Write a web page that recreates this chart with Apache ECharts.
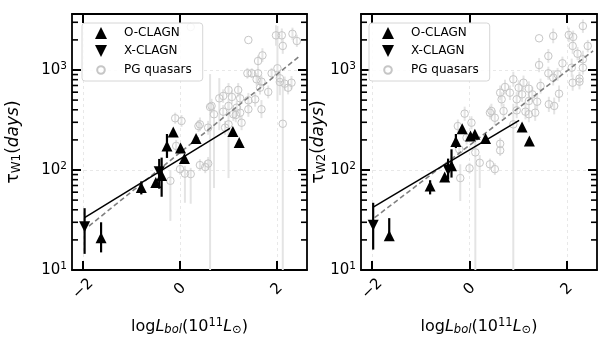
<!DOCTYPE html>
<html>
<head>
<meta charset="utf-8">
<script src="https://cdn.jsdelivr.net/npm/echarts@6/dist/echarts.min.js"></script>
<style>
  html, body { margin: 0; padding: 0; background: #fff; }
  #chart { width: 611px; height: 346px; }
</style>
</head>
<body>
<div id="chart"></div>
<script>
// ---- axis ranges and tick values ----
const xRange = [-2.23, 2.62];
const yRange = [10, 3630];
const xTickValues = [-2, 0, 2];
const yTickValues = [10, 100, 1000];
const yMinorValues = [20, 30, 40, 50, 60, 70, 80, 90, 200, 300, 400, 500, 600, 700, 800, 900, 2000, 3000];

// ---- PG quasars: [logLbol, lag (days), lower, upper] ----
const pgW1 = [
  [0.22, 2690, null, null], [1.41, 1995, null, null], [1.98, 2220, 1750, 2800], [2.10, 2220, 1900, 2600],
  [2.32, 2300, 2000, 2650], [2.41, 1950, 1700, 2250], [2.12, 1740, 1450, 2100], [1.70, 1400, 1200, 1650],
  [1.61, 1230, 1080, 1400], [1.39, 927, 820, 1050], [1.48, 927, 830, 1040], [1.61, 927, 800, 1080],
  [1.89, 927, 820, 1050], [2.01, 1040, 490, 2750], [1.58, 807, 700, 930], [1.68, 764, 660, 880],
  [2.06, 759, 560, 1000], [2.16, 730, 620, 860], [2.23, 665, 570, 780], [2.30, 746, 640, 870],
  [1.82, 603, 520, 700], [1.00, 631, 540, 740], [1.20, 631, 540, 740], [0.89, 550, 470, 640],
  [1.07, 537, 460, 625], [1.24, 521, 450, 600], [1.41, 498, 420, 590], [1.55, 509, 430, 600],
  [0.81, 521, 250, 830], [0.65, 437, 370, 515], [1.00, 437, 370, 515], [1.17, 420, 360, 490],
  [1.41, 405, 340, 480], [1.68, 405, 330, 500], [0.89, 383, 330, 445], [0.70, 361, 66, 420],
  [1.10, 361, 310, 420], [1.24, 374, 320, 440], [1.65, 665, 570, 780], [0.62, 427, 10, 910],
  [1.15, 355, 300, 420], [1.27, 297, 250, 350], [1.00, 286, 83, 470], [-0.10, 329, 290, 375],
  [0.03, 309, 270, 355], [0.41, 286, 245, 335], [0.58, 265, 225, 310], [0.93, 265, 225, 310],
  [2.12, 290, 10, 776], [0.41, 112, 98, 128], [0.58, 116, 100, 135], [0.52, 107, 93, 123],
  [0.00, 102, 90, 116], [0.10, 92, 47, 110], [0.22, 91, 46, 105], [-0.20, 78, 31, 100],
  [-0.08, 174, 150, 200], [0.38, 275, 240, 315], [2.06, 826, 720, 950]
];
const pgW2 = [
  [2.33, 2750, 2350, 3200], [2.04, 2240, 1900, 2650], [2.13, 2140, 1850, 2480], [1.72, 2190, 1850, 2600],
  [1.43, 2075, null, null], [2.12, 1740, 1450, 2100], [2.43, 1740, 1500, 2000], [2.22, 1455, 1250, 1700],
  [1.62, 1380, 1180, 1620], [2.33, 1280, 1050, 1560], [1.91, 1167, 1000, 1360], [1.43, 1122, 950, 1320],
  [2.10, 1054, 850, 1300], [1.62, 927, 800, 1080], [1.81, 906, 780, 1050], [2.12, 746, 620, 900],
  [2.26, 764, 640, 910], [1.72, 837, 700, 1000], [0.90, 807, 680, 960], [1.11, 746, 630, 880],
  [0.73, 676, 570, 800], [1.01, 665, 560, 790], [1.22, 650, 550, 770], [1.46, 692, 580, 820],
  [0.63, 593, 500, 700], [0.83, 593, 500, 700], [1.08, 571, 480, 680], [1.29, 571, 480, 680],
  [1.84, 579, 480, 700], [0.66, 509, 430, 600], [0.97, 509, 430, 600], [1.22, 490, 410, 585],
  [1.39, 482, 400, 580], [1.63, 454, 380, 540], [1.74, 437, 360, 530], [0.45, 389, 330, 460],
  [0.70, 389, 330, 460], [0.97, 395, 330, 470], [1.15, 383, 320, 460], [1.35, 374, 310, 450],
  [0.52, 333, 280, 395], [-0.10, 366, 310, 430], [0.42, 374, 320, 440], [1.22, 361, 300, 430],
  [-0.24, 275, 235, 320], [0.04, 297, 255, 345], [0.90, 286, 10, 460], [0.63, 183, 160, 210],
  [0.63, 157, 138, 178], [-0.21, 161, 140, 185], [0.21, 118, 66, 141], [0.42, 114, 100, 130],
  [0.52, 102, 89, 117], [0.00, 104, 92, 118], [-0.19, 83, 49, 114], [-0.06, 210, 180, 245],
  [0.12, 150, 10, 200], [2.33, 1054, 900, 1230], [2.26, 820, 700, 960]
];

// ---- changing-look AGN: [logLbol, lag (days), lower, upper] ----
const oClagnW1 = [
  [-1.63, 21, 15, 30], [-0.80, 67, 57, 77], [-0.50, 75, null, null], [-0.38, 88, 54, 133],
  [-0.27, 174, 132, 229], [-0.14, 240, 228, 252], [0.01, 166, null, null], [0.09, 130, null, null],
  [0.33, 207, null, null], [1.09, 242, null, null], [1.22, 188, null, null]
];
const xClagnW1 = [[-1.97, 27, 14.5, 41.5], [-0.43, 96, 65, 129]];
const oClagnW2 = [
  [-1.65, 22, 19.5, 33], [-0.81, 69, 57, 79], [-0.51, 85, null, null], [-0.37, 110, 84, 161],
  [-0.28, 193, 166, 229], [-0.15, 258, null, null], [0.02, 219, null, null], [0.11, 228, null, null],
  [0.33, 207, null, null], [1.08, 269, null, null], [1.23, 195, null, null]
];
const xClagnW2 = [[-1.98, 28, 16, 47], [-0.44, 100, 80, 130]];

// ---- fitted relations (end points) ----
const fitClagnW1 = [[-1.97, 33.4], [1.03, 261]];
const fitPgW1 = [[-1.88, 27.5], [2.47, 1380]];
const fitClagnW2 = [[-1.97, 42.7], [1.02, 314]];
const fitPgW2 = [[-1.95, 33.4], [2.54, 1550]];

const FONT = 'DejaVu Sans';
const DOWN_TRI = 'path://M0,0L2,0L1,2Z';
// small hollow circle inside a padded box, for the legend key
const SMALL_RING = 'path://M0,0M12,12M6,2.2A3.8,3.8,0,1,1,5.99,2.2Z';
const INK = '#000';

function fmtX(v) { return v < 0 ? '\u2212' + Math.abs(v) : String(v); }
function fmtY(v) { return '{b|10}{s|' + Math.round(Math.log10(v)) + '}'; }

function barRenderer(color, width) {
  return function (params, api) {
    const a = api.coord([api.value(0), api.value(1)]);
    const b = api.coord([api.value(0), api.value(2)]);
    return { type: 'line', shape: { x1: a[0], y1: a[1], x2: b[0], y2: b[1] },
             style: { stroke: color, lineWidth: width } };
  };
}
const bars = rows => rows.filter(r => r[2] != null).map(r => [r[0], r[2], r[3]]);
const pts = rows => rows.map(r => [r[0], r[1]]);

const lineAxis = { lineStyle: { color: INK, width: 1.8 } };
const tickStyle = { color: INK, width: 2 };
const gridLine = { show: true, lineStyle: { color: '#e3e3e3', width: 0.8, type: [3, 3] } };
const MAJOR_LEN = 9;
const MINOR_LEN = 6;

const xTitle = '{n|log}{i|L}{is|bol}{n|(10}{sup|11}{i|L}{sub|\u2299}{n|)}';
const xTitleRich = {
  n: { fontSize: 16, fontFamily: FONT, color: INK },
  i: { fontSize: 16, fontFamily: FONT, fontStyle: 'italic', color: INK },
  is: { fontSize: 11.5, fontFamily: FONT, fontStyle: 'italic', color: INK, padding: [7, 0, 0, 0] },
  sup: { fontSize: 11.5, fontFamily: FONT, color: INK, padding: [0, 0, 7, 0] },
  sub: { fontSize: 11.5, fontFamily: FONT, color: INK, padding: [7, 0, 0, 0] }
};
function yTitle(band) { return '{n|\u03c4}{sub|' + band + '}{n|(}{i|days}{n|)}'; }
const yTitleRich = {
  n: { fontSize: 17, fontFamily: FONT, color: INK },
  i: { fontSize: 17, fontFamily: FONT, fontStyle: 'italic', color: INK },
  sub: { fontSize: 12, fontFamily: FONT, color: INK, padding: [7, 0, 0, 0] }
};

const xAxes = [], yAxes = [], series = [];
const panels = [
  { pg: pgW1, o: oClagnW1, x: xClagnW1, fit: fitClagnW1, rel: fitPgW1, band: 'W1', gap: 49 },
  { pg: pgW2, o: oClagnW2, x: xClagnW2, fit: fitClagnW2, rel: fitPgW2, band: 'W2', gap: 33 }
];

panels.forEach((p, g) => {
  xAxes.push({
    gridIndex: g, type: 'value', min: xRange[0], max: xRange[1], position: 'bottom',
    axisLine: Object.assign({ onZero: false }, lineAxis),
    axisTick: { inside: true, length: MAJOR_LEN, customValues: xTickValues, lineStyle: tickStyle },
    axisLabel: { customValues: xTickValues, rotate: 45, align: 'center', verticalAlign: 'middle', margin: 19,
                 fontSize: 15, fontFamily: FONT, color: INK, formatter: fmtX },
    splitLine: gridLine,
    name: xTitle, nameLocation: 'middle', nameGap: 47, nameMoveOverlap: false,
    nameTextStyle: { rich: xTitleRich }
  });
  xAxes.push({
    gridIndex: g, type: 'value', min: xRange[0], max: xRange[1], position: 'top',
    axisLine: Object.assign({ onZero: false }, lineAxis),
    axisTick: { inside: true, length: MAJOR_LEN, customValues: xTickValues, lineStyle: tickStyle },
    axisLabel: { show: false }, splitLine: { show: false }
  });
  yAxes.push({
    gridIndex: g, type: 'log', logBase: 10, min: yRange[0], max: yRange[1], position: 'left',
    axisLine: Object.assign({ show: true, onZero: false }, lineAxis),
    axisTick: { show: true, inside: true, length: MAJOR_LEN, customValues: yTickValues, lineStyle: tickStyle },
    axisLabel: { customValues: yTickValues, margin: 5, formatter: fmtY, color: INK,
                 rich: { b: { fontSize: 15, fontFamily: FONT, color: INK },
                         s: { fontSize: 10.5, fontFamily: FONT, color: INK, padding: [0, 0, 8, 0] } } },
    splitLine: gridLine, minorTick: { show: false },
    name: yTitle(p.band), nameLocation: 'middle', nameGap: p.gap, nameRotate: 90, nameMoveOverlap: false,
    nameTextStyle: { rich: yTitleRich }
  });
  yAxes.push({
    gridIndex: g, type: 'log', logBase: 10, min: yRange[0], max: yRange[1], position: 'right',
    axisLine: Object.assign({ show: true, onZero: false }, lineAxis),
    axisTick: { show: true, inside: true, length: MAJOR_LEN, customValues: yTickValues, lineStyle: tickStyle },
    axisLabel: { show: false }, splitLine: { show: false }, minorTick: { show: false }
  });

  const ax = { xAxisIndex: 2 * g, yAxisIndex: 2 * g };
  // minor ticks of the log axis: short inward dashes on the left and right spines
  series.push(Object.assign({ type: 'scatter', silent: true, clip: false, z: 10,
    symbol: 'rect', symbolSize: [MINOR_LEN, 1.6], symbolOffset: [MINOR_LEN / 2, 0],
    itemStyle: { color: INK, opacity: 1 },
    data: yMinorValues.map(v => [xRange[0], v]) }, ax));
  series.push(Object.assign({ type: 'scatter', silent: true, clip: false, z: 10,
    symbol: 'rect', symbolSize: [MINOR_LEN, 1.6], symbolOffset: [-MINOR_LEN / 2, 0],
    itemStyle: { color: INK, opacity: 1 },
    data: yMinorValues.map(v => [xRange[1], v]) }, ax));
  series.push(Object.assign({ type: 'custom', renderItem: barRenderer('#e4e4e4', 2), silent: true, z: 1,
    clip: true, data: bars(p.pg), encode: { x: 0, y: [1, 2] } }, ax));
  series.push(Object.assign({ name: 'PG quasars', type: 'scatter', symbol: 'circle', symbolSize: 7.5, z: 2,
    itemStyle: { color: 'rgba(0,0,0,0)', borderColor: '#c6c6c6', borderWidth: 1, opacity: 1 },
    data: pts(p.pg) }, ax));
  series.push(Object.assign({ type: 'line', data: p.rel, showSymbol: false, z: 3,
    lineStyle: { color: '#808080', width: 1.6, type: [5, 3] } }, ax));
  series.push(Object.assign({ type: 'line', data: p.fit, showSymbol: false, z: 4,
    lineStyle: { color: INK, width: 1.5 } }, ax));
  series.push(Object.assign({ type: 'custom', renderItem: barRenderer(INK, 2.2), silent: true, z: 5,
    data: bars(p.o).concat(bars(p.x)), encode: { x: 0, y: [1, 2] } }, ax));
  series.push(Object.assign({ name: 'O-CLAGN', type: 'scatter', symbol: 'triangle', symbolSize: 11, z: 6,
    itemStyle: { color: INK, opacity: 1 }, data: pts(p.o) }, ax));
  series.push(Object.assign({ name: 'X-CLAGN', type: 'scatter', symbol: DOWN_TRI, symbolSize: 11, z: 6,
    itemStyle: { color: INK, opacity: 1 }, data: pts(p.x) }, ax));
});

function legendAt(left) {
  return {
    left: left, top: 23, orient: 'vertical', selectedMode: false,
    itemWidth: 12, itemHeight: 12, itemGap: 6,
    padding: [4, 11, 4, 12],
    backgroundColor: 'rgba(255,255,255,0.85)', borderColor: '#d6d6d6', borderWidth: 1, borderRadius: 3,
    textStyle: { fontSize: 12, fontFamily: FONT, color: INK, padding: [0, 0, 0, 12] },
    data: [
      { name: 'O-CLAGN', icon: 'triangle' },
      { name: 'X-CLAGN', icon: DOWN_TRI },
      { name: 'PG quasars', icon: SMALL_RING }
    ]
  };
}

const chart = echarts.init(document.getElementById('chart'), null, { renderer: 'canvas' });
chart.setOption({
  animation: false,
  backgroundColor: '#fff',
  textStyle: { fontFamily: FONT },
  grid: [
    { left: 72, top: 14, width: 235, height: 256, outerBoundsMode: 'none' },
    { left: 361, top: 14, width: 236, height: 256, outerBoundsMode: 'none' }
  ],
  legend: [legendAt(82), legendAt(369)],
  xAxis: xAxes,
  yAxis: yAxes,
  series: series
});
</script>
</body>
</html>
